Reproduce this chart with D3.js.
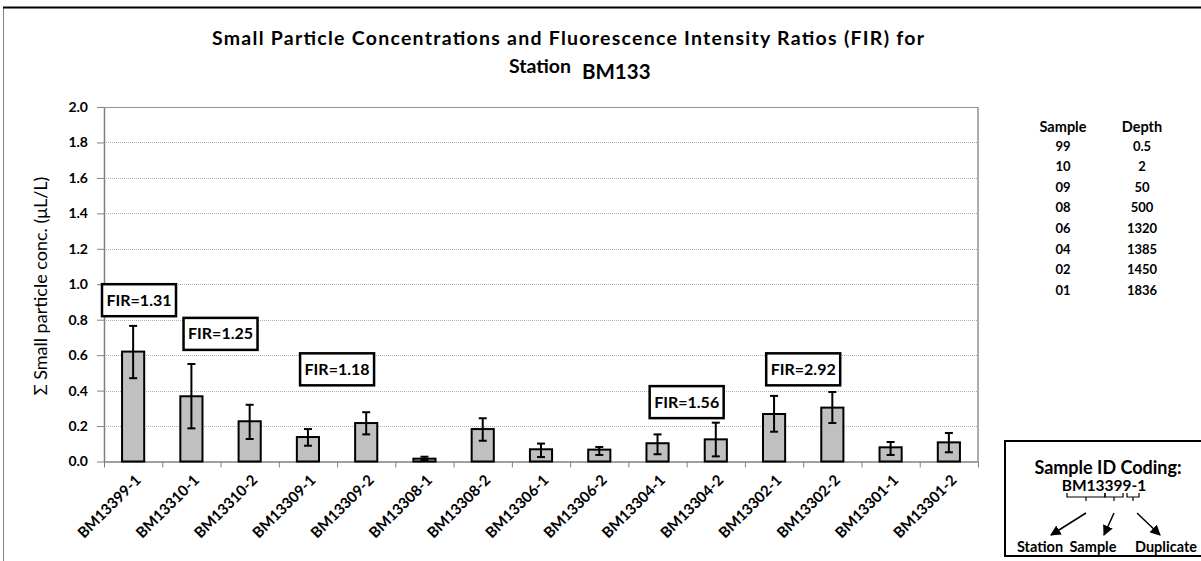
<!DOCTYPE html>
<html>
<head>
<meta charset="utf-8">
<script src="https://cdn.jsdelivr.net/npm/d3@7"></script>
<style>
  body { margin: 0; background: #fff; }
  text { font-family: Lato, "Open Sans", sans-serif; fill: #000; }
</style>
</head>
<body>
<svg width="1201" height="561"></svg>
<script>
// samples along the x axis
const samples = ["BM13399-1", "BM13310-1", "BM13310-2", "BM13309-1", "BM13309-2",
  "BM13308-1", "BM13308-2", "BM13306-1", "BM13306-2", "BM13304-1",
  "BM13304-2", "BM13302-1", "BM13302-2", "BM13301-1", "BM13301-2"];
// small particle conc (uL/L)
const conc = [0.62, 0.368, 0.227, 0.138, 0.217, 0.016, 0.183, 0.069, 0.067, 0.103,
  0.125, 0.268, 0.304, 0.08, 0.108];
const errLow = [0.47, 0.187, 0.127, 0.089, 0.153, 0.008, 0.117, 0.025, 0.037, 0.041,
  0.029, 0.168, 0.217, 0.037, 0.052];
const errHigh = [0.765, 0.55, 0.32, 0.183, 0.278, 0.027, 0.244, 0.101, 0.082, 0.153,
  0.219, 0.37, 0.392, 0.11, 0.161];
const yTicks = [0, 0.2, 0.4, 0.6, 0.8, 1.0, 1.2, 1.4, 1.6, 1.8, 2.0];

// FIR labels: which sample pair they belong to and the level they sit at
const firLabels = ["FIR=1.31", "FIR=1.25", "FIR=1.18", "FIR=1.56", "FIR=2.92"];
const firPairs = [["BM13399-1", "BM13399-1"], ["BM13310-1", "BM13310-2"], ["BM13309-1", "BM13309-2"],
  ["BM13304-1", "BM13304-2"], ["BM13302-1", "BM13302-2"]];
const firLevel = [0.91, 0.72, 0.52, 0.335, 0.52];

// depth table
const sampleCodes = ["99", "10", "09", "08", "06", "04", "02", "01"];
const depths = ["0.5", "2", "50", "500", "1320", "1385", "1450", "1836"];

const svg = d3.select("svg");

// outer frame
svg.append("line").attr("x1", 3.5).attr("x2", 3.5).attr("y1", 7).attr("y2", 561)
  .attr("stroke", "#808080").attr("stroke-width", 1);
svg.append("line").attr("x1", 3).attr("x2", 1201).attr("y1", 7.5).attr("y2", 7.5)
  .attr("stroke", "#000").attr("stroke-width", 2);

const x0 = 104, x1 = 978, yTop = 107, yBot = 461.5;

var x = d3.scaleBand().domain(samples).range([x0, x1]).paddingInner(0.62).paddingOuter(0.31);
var y = d3.scaleLinear().domain([0, 2]).range([yBot, yTop]);
var xi = d3.scaleLinear().domain([0, samples.length]).range([x0, x1]);

// gridlines
svg.append("g")
  .selectAll("line")
  .data(yTicks.filter(d => d > 0 && d < 2))
  .enter()
  .append("line")
  .attr("x1", x0).attr("x2", x1)
  .attr("y1", d => Math.round(y(d)) + 0.5).attr("y2", d => Math.round(y(d)) + 0.5)
  .attr("stroke", "#b0b0b0").attr("stroke-dasharray", "1,1");

// plot border top / right
svg.append("line").attr("x1", x0).attr("x2", x1).attr("y1", yTop + 0.5).attr("y2", yTop + 0.5)
  .attr("stroke", "#909090");
svg.append("line").attr("x1", x1).attr("x2", x1).attr("y1", yTop).attr("y2", yBot)
  .attr("stroke", "#909090").attr("stroke-width", 1.5);

// y axis
var yAxis = svg.append("g")
  .attr("transform", "translate(" + x0 + ",0)")
  .call(d3.axisLeft(y).tickValues(yTicks).tickFormat(d3.format(".1f")).tickSize(7).tickSizeOuter(0));
yAxis.select(".domain").attr("stroke", "#808080").attr("stroke-width", 1.5);
yAxis.selectAll(".tick line").attr("stroke", "#808080");
yAxis.selectAll("text")
  .attr("x", -16)
  .style("font-size", "14px").style("font-weight", "bold").style("font-family", "Lato");

// x axis, ticks between categories
var xAxis = svg.append("g")
  .attr("transform", "translate(0," + yBot + ")")
  .call(d3.axisBottom(xi).ticks(samples.length).tickSize(6).tickFormat("").tickSizeOuter(0));
xAxis.select(".domain").attr("stroke", "#808080").attr("stroke-width", 1.5);
xAxis.selectAll(".tick line").attr("stroke", "#808080");

// x labels
svg.append("g")
  .selectAll("text")
  .data(samples)
  .enter()
  .append("text")
  .attr("transform", d => "translate(" + (x(d) + x.bandwidth() / 2 + 5) + "," + (yBot + 16) + ")rotate(-45)")
  .attr("text-anchor", "end")
  .attr("dy", "0.35em")
  .style("font-size", "15px")
  .style("font-weight", "bold")
  .text(d => d);

// bars
svg.append("g")
  .selectAll("rect")
  .data(samples)
  .enter()
  .append("rect")
  .attr("x", d => x(d))
  .attr("y", (d, i) => y(conc[i]))
  .attr("width", x.bandwidth())
  .attr("height", (d, i) => yBot - y(conc[i]))
  .attr("fill", "#c0c0c0")
  .attr("stroke", "#000")
  .attr("stroke-width", 2);

// error bars
var eb = svg.append("g").attr("stroke", "#000").attr("stroke-width", 2);
samples.forEach((d, i) => {
  const cx = x(d) + x.bandwidth() / 2;
  eb.append("line").attr("x1", cx).attr("x2", cx).attr("y1", y(errLow[i])).attr("y2", y(errHigh[i]));
  eb.append("line").attr("x1", cx - 4).attr("x2", cx + 4).attr("y1", y(errLow[i])).attr("y2", y(errLow[i]));
  eb.append("line").attr("x1", cx - 4).attr("x2", cx + 4).attr("y1", y(errHigh[i])).attr("y2", y(errHigh[i]));
});

// FIR boxes
const boxW = 74, boxH = 32;
firLabels.forEach((lab, i) => {
  const a = firPairs[i][0], b = firPairs[i][1];
  const cx = (x(a) + x(b)) / 2 + x.bandwidth() / 2;
  const left = Math.max(cx - boxW / 2, x0 - 2);
  const cy = y(firLevel[i]);
  svg.append("rect")
    .attr("x", left).attr("y", cy - boxH / 2)
    .attr("width", boxW).attr("height", boxH)
    .attr("fill", "#fff").attr("stroke", "#000").attr("stroke-width", 2.5);
  svg.append("text")
    .attr("x", left + boxW / 2).attr("y", cy)
    .attr("dy", "0.35em")
    .attr("text-anchor", "middle")
    .style("font-size", "16px").style("font-weight", "bold")
    .text(lab);
});

// title
svg.append("text")
  .attr("x", 212).attr("y", 45)
  .attr("textLength", 712).attr("lengthAdjust", "spacing")
  .style("font-size", "19.5px").style("font-weight", "bold")
  .text("Small Particle  Concentrations and Fluorescence Intensity Ratios (FIR) for");
svg.append("text")
  .attr("x", 509).attr("y", 73)
  .style("font-size", "19.5px").style("font-weight", "bold")
  .text("Station");
svg.append("text")
  .attr("x", 582).attr("y", 79)
  .style("font-size", "20.5px").style("font-weight", "bold")
  .text("BM133");

// y label
svg.append("text")
  .attr("transform", "translate(47,286)rotate(-90)")
  .attr("text-anchor", "middle")
  .style("font-size", "18px")
  .text("\u03A3 Small particle conc. (\u03BCL/L)");

// depth table
var tbl = svg.append("g").style("font-weight", "bold").style("font-size", "13px");
tbl.append("text").attr("x", 1063).attr("y", 132).attr("text-anchor", "middle").style("font-size", "14.5px").text("Sample");
tbl.append("text").attr("x", 1142).attr("y", 132).attr("text-anchor", "middle").style("font-size", "14.5px").text("Depth");
sampleCodes.forEach((s, i) => {
  const ty = 150.5 + i * 20.6;
  tbl.append("text").attr("x", 1063).attr("y", ty).attr("text-anchor", "middle").text(s);
  tbl.append("text").attr("x", 1142).attr("y", ty).attr("text-anchor", "middle").text(depths[i]);
});

// sample id coding legend
var key = svg.append("g");
key.append("rect").attr("x", 1005).attr("y", 441).attr("width", 200).attr("height", 115)
  .attr("fill", "#fff").attr("stroke", "#000").attr("stroke-width", 2);
key.append("text").attr("x", 1108).attr("y", 474).attr("text-anchor", "middle")
  .style("font-size", "18px").style("font-weight", "bold").text("Sample ID Coding:");
key.append("text").attr("x", 1104).attr("y", 491).attr("text-anchor", "middle")
  .style("font-size", "15.5px").style("font-weight", "bold").text("BM13399-1");
// braces under the id
var br = key.append("g").attr("stroke", "#000").attr("stroke-width", 1.2).attr("fill", "none");
[[1067, 1105], [1105, 1123], [1127, 1139]].forEach(p => {
  const m = (p[0] + p[1]) / 2;
  br.append("path").attr("d", "M" + p[0] + ",493V497H" + p[1] + "V493M" + m + ",497V501");
});
svg.append("defs").append("marker")
  .attr("id", "arr").attr("viewBox", "0 0 10 10").attr("refX", 9).attr("refY", 5)
  .attr("markerWidth", 7).attr("markerHeight", 7).attr("orient", "auto")
  .append("path").attr("d", "M0,0L10,5L0,10z").attr("fill", "#000");
[[1086, 513, 1051, 535], [1114, 513, 1104, 535], [1137, 513, 1160, 535]].forEach(a => {
  key.append("line").attr("x1", a[0]).attr("y1", a[1]).attr("x2", a[2]).attr("y2", a[3])
    .attr("stroke", "#000").attr("stroke-width", 1.5).attr("marker-end", "url(#arr)");
});
key.append("text").attr("x", 1040).attr("y", 552).attr("text-anchor", "middle")
  .style("font-size", "14.5px").style("font-weight", "bold").text("Station");
key.append("text").attr("x", 1093).attr("y", 552).attr("text-anchor", "middle")
  .style("font-size", "14.5px").style("font-weight", "bold").text("Sample");
key.append("text").attr("x", 1166).attr("y", 552).attr("text-anchor", "middle")
  .style("font-size", "14.5px").style("font-weight", "bold").text("Duplicate");
</script>
</body>
</html>
